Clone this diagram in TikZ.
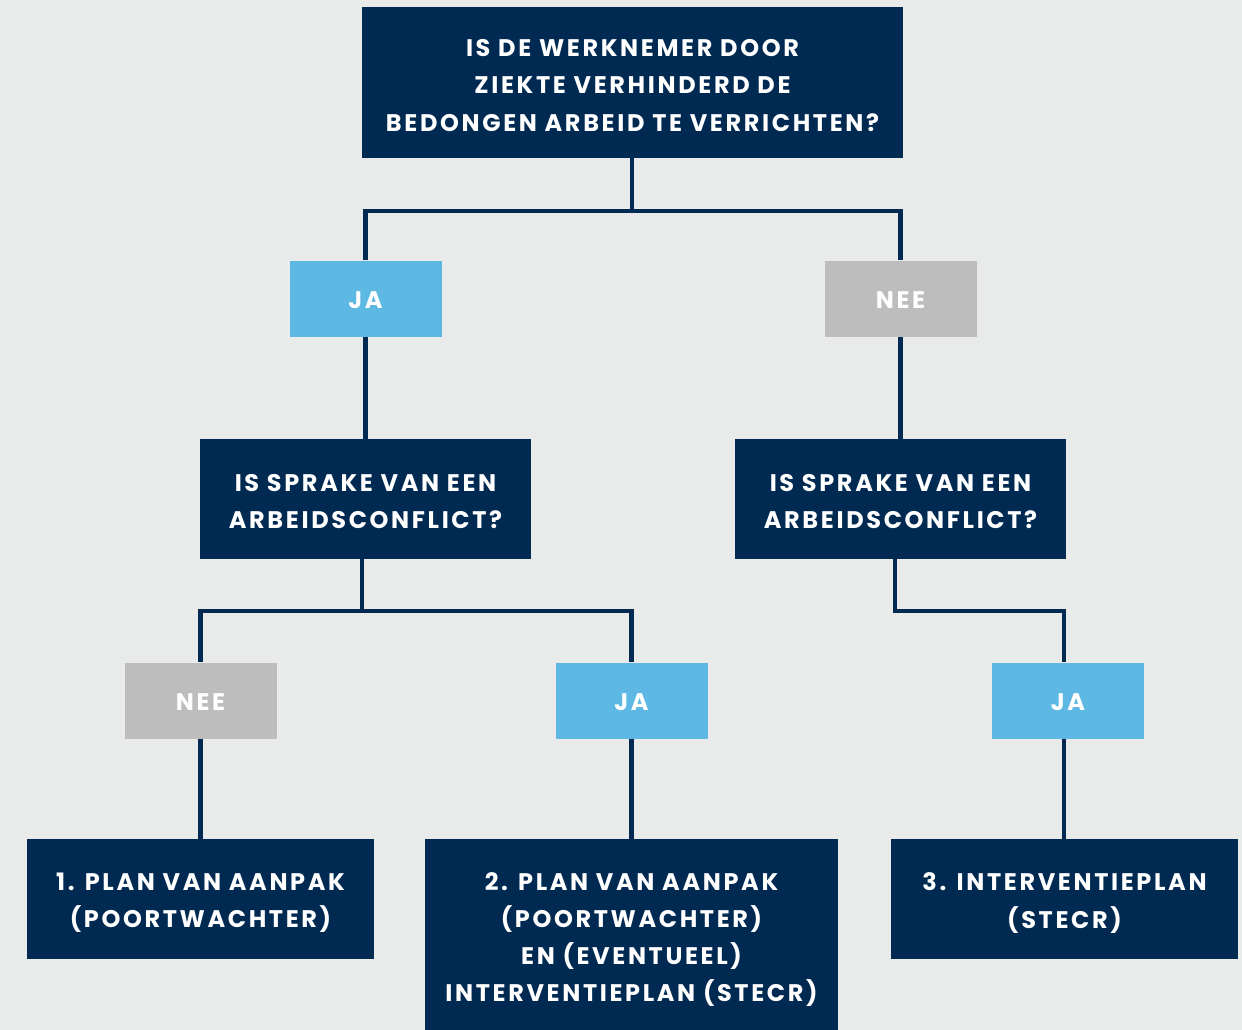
\documentclass[tikz,border=0pt]{standalone}
\usepackage{fontspec}
\setmainfont{Poppins}[UprightFont=* SemiBold, BoldFont=* Bold, LetterSpace=11]
\definecolor{navy}{HTML}{012A52}
\definecolor{lblue}{HTML}{5DB8E3}
\definecolor{lgray}{HTML}{BDBDBD}
\definecolor{bg}{HTML}{E9EAEA}
\begin{document}
\begin{tikzpicture}[x=1pt,y=-1pt,
  txt/.style={text=white,align=center,inner sep=0pt,
    font=\fontsize{24}{37.3}\selectfont\bfseries},
  box/.style={fill=navy,inner sep=0pt},
  jabox/.style={fill=lblue,minimum width=152pt,minimum height=76pt,inner sep=0pt},
  neebox/.style={jabox,fill=lgray},
  conn/.style={draw=navy,line width=4.5pt}]
\fill[bg] (0,0) rectangle (1242,1030);
\useasboundingbox (0,0) rectangle (1242,1030);
\node[box,minimum width=541pt,minimum height=151pt,
  label={[txt,yshift=-3pt]center:IS DE WERKNEMER DOOR\\ZIEKTE VERHINDERD DE\\BEDONGEN ARBEID TE VERRICHTEN?}]
  (top) at (632.5,82.5) {};
\node[jabox,label={[txt,yshift=-1.5pt]center:JA}] (jaL) at (365.5,298.5) {};
\node[neebox,label={[txt,yshift=-1.5pt]center:NEE}] (neeR) at (900.5,298.5) {};
\node[box,minimum width=331pt,minimum height=120pt,
  label={[txt,yshift=-2.5pt]center:IS SPRAKE VAN EEN\\ARBEIDSCONFLICT?}] (midL) at (365.5,499) {};
\node[box,minimum width=331pt,minimum height=120pt,
  label={[txt,yshift=-2.5pt]center:IS SPRAKE VAN EEN\\ARBEIDSCONFLICT?}] (midR) at (900.5,499) {};
\node[neebox,label={[txt,yshift=-1.5pt]center:NEE}] (neeB) at (200.5,700.5) {};
\node[jabox,label={[txt,yshift=-1.5pt]center:JA}] (jaB) at (631.5,700.5) {};
\node[jabox,label={[txt,yshift=-1.5pt]center:JA}] (jaR) at (1068,700.5) {};
\node[box,minimum width=347pt,minimum height=120pt,
  label={[txt,yshift=-4pt]center:1. PLAN VAN AANPAK\\(POORTWACHTER)}] (b1) at (200.5,899) {};
\node[box,minimum width=413pt,minimum height=191pt,
  label={[txt,yshift=-5pt]center:2. PLAN VAN AANPAK\\(POORTWACHTER)\\EN (EVENTUEEL)\\INTERVENTIEPLAN (STECR)}] (b2) at (631.5,934.5) {};
\node[box,minimum width=347pt,minimum height=120pt,
  label={[txt,yshift=-4pt]center:3. INTERVENTIEPLAN\\(STECR)}] (b3) at (1064.5,899) {};
\coordinate (j1) at (632,211);
\coordinate (j2) at (362,611);
\coordinate (j3) at (895,611);
\coordinate (j4) at (1064,611);
\draw[conn] (top.south -| j1) -- (j1) -| (jaL.north);
\draw[conn] (j1) -| (neeR.north);
\draw[conn] (jaL) -- (midL);
\draw[conn] (neeR) -- (midR);
\draw[conn] (midL.south -| j2) -- (j2) -| (neeB.north);
\draw[conn] (j2) -| (jaB.north);
\draw[conn] (midR.south -| j3) -- (j3) -- (j4) -- (jaR.north -| j4);
\draw[conn] (neeB) -- (b1.north -| neeB);
\draw[conn] (jaB) -- (b2.north -| jaB);
\draw[conn] (jaR.south -| j4) -- (b3.north -| j4);
\end{tikzpicture}
\end{document}
